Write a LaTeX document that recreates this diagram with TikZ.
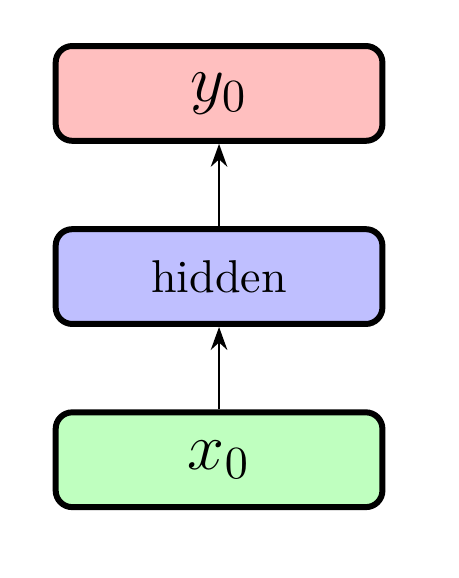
\documentclass[tikz,border=0pt]{standalone}
\usetikzlibrary{positioning,arrows.meta}
\tikzset{
  layer/.style={draw,line width=1.3pt,rounded corners=3.6pt,
    minimum width=71pt,minimum height=20.6pt,font=\Large},
  link/.style={-{Stealth[length=5pt,width=3.6pt]},line width=0.45pt}
}
\begin{document}
\begin{tikzpicture}[node distance=17.9pt]
  \useasboundingbox (-47.6pt,-105.3pt) rectangle (52pt,20.3pt);

  \node[layer,fill=red!25] (y) {$y_0$};
  \node[layer,fill=blue!25,below=of y,font=\normalsize] (h) {hidden};
  \node[layer,fill=green!25,below=of h] (x) {$x_0$};
  \draw[link] (x) -- (h);
  \draw[link] (h) -- (y);
\end{tikzpicture}
\end{document}
